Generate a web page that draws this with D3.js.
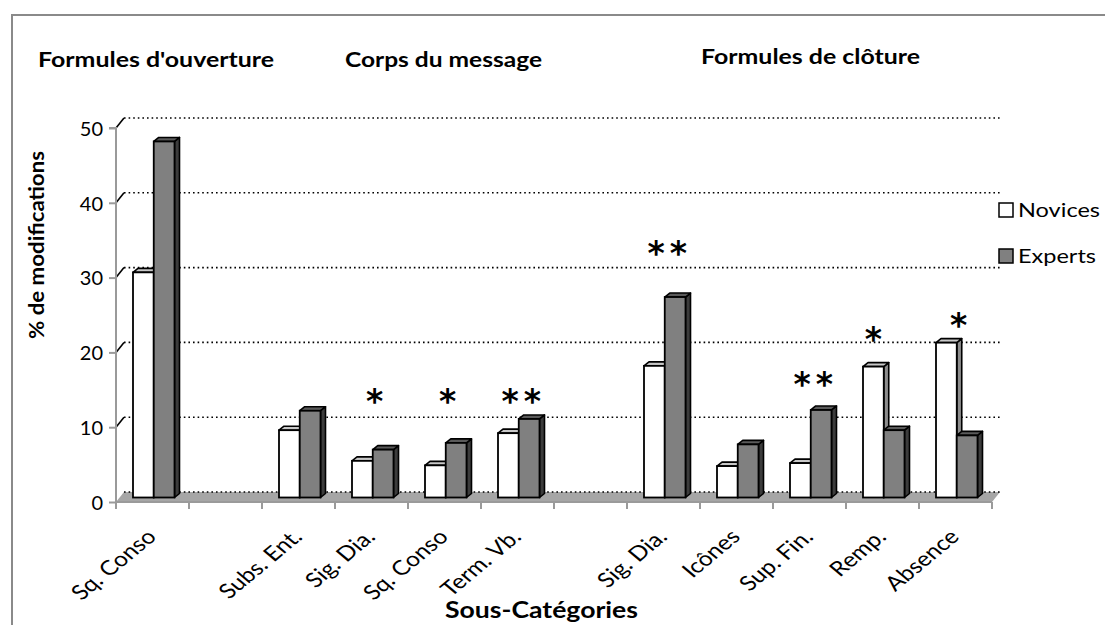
<!DOCTYPE html>
<html>
<head>
<meta charset="utf-8">
<script src="https://cdn.jsdelivr.net/npm/d3@7"></script>
<style>
  html, body { margin: 0; padding: 0; background: #fff; }
  svg { display: block; }
  text { font-family: Lato, "Open Sans", sans-serif; fill: #000; }
</style>
</head>
<body>
<svg id="chart" width="1105" height="625"></svg>
<script>
// ---- data ----
const categories = ["Sq. Conso", "", "Subs. Ent.", "Sig. Dia.", "Sq. Conso", "Term. Vb.", "", "Sig. Dia.", "Icônes", "Sup. Fin.", "Remp.", "Absence"];
const seriesNames = ["Novices", "Experts"];
const novices = [30.1, null, 9.0, 4.9, 4.3, 8.6, null, 17.6, 4.2, 4.6, 17.5, 20.7];
const experts = [47.6, null, 11.6, 6.4, 7.3, 10.5, null, 26.8, 7.1, 11.7, 9.0, 8.3];
const yTicks = [0, 10, 20, 30, 40, 50];
const sectionTitles = ["Formules d'ouverture", "Corps du message", "Formules de clôture"];
const yTitle = "% de modifications";
const xTitle = "Sous-Catégories";
const sigCats = [3, 4, 5, 7, 9, 10, 11];
const sigMarks = ["*", "*", "**", "**", "**", "*", "*"];
const sigLevels = [13.7, 13.7, 13.7, 33.5, 16.0, 22.0, 23.8];
const sigOver = ["group", "group", "group", "group", "group", "Novices", "group"];

// ---- layout ----
const svg = d3.select("#chart");
const x = d3.scaleBand().domain(d3.range(categories.length)).range([116, 992]).padding(0);
const y = d3.scaleLinear().domain([0, 50]).range([502, 128]);
const xs = d3.scaleBand().domain(d3.range(seriesNames.length)).range([17, 58.5]).padding(0);
const wall = { dx: 8, dy: -10 };
const plane = { dx: 0, dy: -4.5 };
const depth = { dx: 5, dy: -4 };
const LABEL_STRETCH = 1.2;

// outer frame
svg.append("path")
  .attr("d", `M12,625 L12,15 L1105,15`)
  .attr("fill", "none").attr("stroke", "#8a8a8a").attr("stroke-width", 2);

// floor
const fx0 = x.range()[0], fx1 = x.range()[1];
svg.append("path")
  .attr("d", `M${fx0},${y(0)} L${fx0 + wall.dx},${y(0) + wall.dy} L${fx1 + wall.dx},${y(0) + wall.dy} L${fx1},${y(0)} Z`)
  .attr("fill", "#a6a6a6");

// gridlines on back wall (dotted) + side-wall diagonals
const grid = svg.append("g");
yTicks.forEach(v => {
  grid.append("line")
    .attr("x1", fx0 + wall.dx).attr("x2", fx1 + wall.dx)
    .attr("y1", y(v) + wall.dy).attr("y2", y(v) + wall.dy)
    .attr("stroke", "#000").attr("stroke-width", 1.6)
    .attr("stroke-dasharray", "1.6,3");
  if (v > 0) {
    grid.append("line")
      .attr("x1", fx0).attr("y1", y(v))
      .attr("x2", fx0 + wall.dx).attr("y2", y(v) + wall.dy)
      .attr("stroke", "#000").attr("stroke-width", 1.6);
  }
});

// axes
const axCol = "#9a9a9a";
const yAxis = d3.axisLeft(y).tickValues(yTicks).tickSize(7).tickFormat(d3.format("d"));
const gy = svg.append("g").attr("transform", `translate(${fx0},0)`).call(yAxis);
gy.select(".domain").attr("stroke", axCol).attr("stroke-width", 2).attr("d", `M-7,${y(50)}H0V${y(0) + 6}`);
gy.selectAll(".tick line").attr("stroke", axCol).attr("stroke-width", 2);
gy.selectAll(".tick text")
  .attr("x", -13).attr("dy", "0.36em")
  .style("font-family", "Lato, sans-serif").style("font-size", "20px").attr("fill", "#000");

const gx = svg.append("g");
gx.append("line").attr("x1", fx0).attr("x2", fx1).attr("y1", y(0)).attr("y2", y(0))
  .attr("stroke", axCol).attr("stroke-width", 2);
const bounds = d3.range(categories.length + 1).map(i => i < categories.length ? x(i) : fx1);
gx.selectAll("line.tk").data(bounds).join("line").attr("class", "tk")
  .attr("x1", d => d).attr("x2", d => d).attr("y1", y(0)).attr("y2", y(0) + 7)
  .attr("stroke", axCol).attr("stroke-width", 2);

// category labels (rotated)
gx.selectAll("text.cat").data(categories).join("text").attr("class", "cat")
  .attr("transform", (d, i) => `translate(${x(i) + x.bandwidth() / 2 + 5},538) scale(${LABEL_STRETCH},1) rotate(-45)`)
  .attr("text-anchor", "end")
  .style("font-size", "20.5px")
  .text(d => d);

// bars
const series = [
  { name: seriesNames[0], values: novices, front: "#ffffff", top: "#c8c8c8", side: "#8c8c8c" },
  { name: seriesNames[1], values: experts, front: "#808080", top: "#5a5a5a", side: "#3c3c3c" }
];
const barsG = svg.append("g");
const bw = xs.bandwidth();
categories.forEach((c, i) => {
  series.forEach((s, si) => {
    const v = s.values[i];
    if (v == null) return;
    const x0 = x(i) + xs(si) + plane.dx;
    const base = y(0) + plane.dy;
    const top = y(v) + plane.dy;
    const g = barsG.append("g");
    g.append("path")
      .attr("d", `M${x0 + bw},${top} L${x0 + bw + depth.dx},${top + depth.dy} L${x0 + bw + depth.dx},${base + depth.dy} L${x0 + bw},${base} Z`)
      .attr("fill", s.side).attr("stroke", "#000").attr("stroke-width", 1.6).attr("stroke-linejoin", "round");
    g.append("path")
      .attr("d", `M${x0},${top} L${x0 + depth.dx},${top + depth.dy} L${x0 + bw + depth.dx},${top + depth.dy} L${x0 + bw},${top} Z`)
      .attr("fill", s.top).attr("stroke", "#000").attr("stroke-width", 1.6).attr("stroke-linejoin", "round");
    g.append("rect")
      .attr("x", x0).attr("y", top).attr("width", bw).attr("height", base - top)
      .attr("fill", s.front).attr("stroke", "#000").attr("stroke-width", 1.8);
  });
});

// significance marks
sigCats.forEach((ci, k) => {
  let cx;
  if (sigOver[k] === "group") cx = x(ci) + xs(0) + bw + 2;
  else cx = x(ci) + xs(seriesNames.indexOf(sigOver[k])) + bw / 2;
  const cy = y(sigLevels[k]) + plane.dy;
  const mark = sigMarks[k];
  svg.append("text")
    .attr("x", cx + (mark.length > 1 ? 3 : 0)).attr("y", cy + 18)
    .attr("text-anchor", "middle")
    .style("font-family", "'DejaVu Sans', sans-serif")
    .style("font-size", "33px")
    .style("font-weight", "700")
    .style("letter-spacing", mark.length > 1 ? "5px" : "0px")
    .text(mark);
});

// section titles
const titleX = [38, 345, 701];
const titleY = [67, 67, 64];
const titleW = [236, 197, 219];
sectionTitles.forEach((t, i) => {
  svg.append("text")
    .attr("x", titleX[i]).attr("y", titleY[i])
    .attr("textLength", titleW[i]).attr("lengthAdjust", "spacingAndGlyphs")
    .style("font-size", "20.5px").style("font-weight", "700")
    .text(t);
});

// y title
svg.append("text")
  .attr("transform", `translate(44,245) rotate(-90)`)
  .attr("text-anchor", "middle")
  .attr("textLength", 188).attr("lengthAdjust", "spacingAndGlyphs")
  .style("font-size", "21px").style("font-weight", "700")
  .text(yTitle);

// x title
svg.append("text")
  .attr("x", 445).attr("y", 618)
  .attr("textLength", 193).attr("lengthAdjust", "spacingAndGlyphs")
  .style("font-size", "22px").style("font-weight", "700")
  .text(xTitle);

// legend
const legY = [210, 256];
const legW = [82, 78];
series.forEach((s, i) => {
  svg.append("rect")
    .attr("x", 999).attr("y", legY[i] - 7).attr("width", 14).attr("height", 14)
    .attr("fill", s.front).attr("stroke", "#000").attr("stroke-width", 1.5);
  svg.append("text")
    .attr("x", 1018).attr("y", legY[i] + 7)
    .attr("textLength", legW[i]).attr("lengthAdjust", "spacingAndGlyphs")
    .style("font-size", "20px")
    .text(s.name);
});
</script>
</body>
</html>
